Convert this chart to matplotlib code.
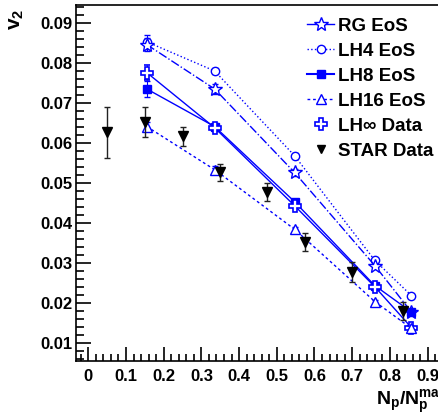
import matplotlib
matplotlib.use("Agg")
import matplotlib.pyplot as plt
from matplotlib.lines import Line2D
from matplotlib.ticker import MultipleLocator, FixedLocator, FixedFormatter

plt.rcParams['font.family'] = ['Liberation Sans', 'DejaVu Sans']
plt.rcParams['font.weight'] = 'bold'
plt.rcParams['mathtext.fontset'] = 'custom'
plt.rcParams['mathtext.rm'] = 'Liberation Sans:bold'
plt.rcParams['mathtext.bf'] = 'Liberation Sans:bold'
plt.rcParams['mathtext.it'] = 'Liberation Sans:bold'
plt.rcParams['mathtext.default'] = 'bf'

# ---- data ----
x_model = [0.155, 0.335, 0.547, 0.760, 0.857]
rg = [0.0846, 0.0735, 0.0526, 0.0293, 0.0177]
rg_err = [0.0016, 0.0013, 0.0008, 0.0008, 0.0006]
lh4 = [0.0853, 0.0780, 0.0568, 0.0306, 0.0218]
lh4_err = [0.0018, 0.0008, 0.0006, 0.0006, 0.0005]
lh8 = [0.0735, 0.0641, 0.0453, 0.0243, 0.0177]
lh8_err = [0.0019, 0.0008, 0.0006, 0.0006, 0.0005]
lh16 = [0.0641, 0.0533, 0.0384, 0.0203, 0.0136]
lh16_err = [0.0012, 0.0008, 0.0006, 0.0005, 0.0005]
lhinf = [0.0776, 0.0638, 0.0443, 0.0240, 0.0138]
lhinf_err = [0.0018, 0.0008, 0.0006, 0.0006, 0.0005]

star_x = [0.05, 0.15, 0.25, 0.35, 0.475, 0.575, 0.70, 0.836]
star_y = [0.0626, 0.0653, 0.0616, 0.0526, 0.0477, 0.0352, 0.0277, 0.0179]
star_err = [0.0063, 0.0038, 0.0025, 0.0022, 0.0023, 0.0023, 0.0024, 0.0022]

x_ticks = [0, 0.1, 0.2, 0.3, 0.4, 0.5, 0.6, 0.7, 0.8, 0.9]
x_ticklabels = ['0', '0.1', '0.2', '0.3', '0.4', '0.5', '0.6', '0.7', '0.8', '0.9']
y_ticks = [0.01, 0.02, 0.03, 0.04, 0.05, 0.06, 0.07, 0.08, 0.09]
y_ticklabels = ['0.01', '0.02', '0.03', '0.04', '0.05', '0.06', '0.07', '0.08', '0.09']

W, H = 439, 413
fig = plt.figure(figsize=(W / 100, H / 100), dpi=100)
ax_left, ax_right, ax_top, ax_bot = 76.5, 445.0, 5.0, 361.0
ax = fig.add_axes([ax_left / W, 1 - ax_bot / H, (ax_right - ax_left) / W, (ax_bot - ax_top) / H])

blue = '#0000ff'
ms = 7
lw = 1.0

ax.errorbar(x_model, lh4, yerr=lh4_err, color=blue, ls=':', lw=lw, marker='o', mfc='white',
            mec=blue, ms=ms - 1, capsize=2, elinewidth=0.7, zorder=3)
ax.errorbar(x_model, rg, yerr=rg_err, color=blue, ls='-.', lw=lw, marker='*', mfc='white',
            mec=blue, ms=ms + 3, capsize=2, elinewidth=0.8, zorder=3)
ax.errorbar(x_model, lh8, yerr=lh8_err, color=blue, ls='-', lw=lw, marker='s', mfc=blue,
            mec=blue, ms=ms - 1, capsize=2, elinewidth=0.8, zorder=3)
ax.errorbar(x_model, lhinf, yerr=lhinf_err, color=blue, ls='-', lw=lw, marker='P', mfc='white',
            mec=blue, ms=ms + 2, mew=1.2, capsize=2, elinewidth=0.8, zorder=3)
ax.errorbar(x_model, lh16, yerr=lh16_err, color=blue, ls=(0, (2, 2)), lw=lw, marker='^', mfc='white',
            mec=blue, ms=ms, capsize=2, elinewidth=0.7, zorder=3)
ax.errorbar(star_x, star_y, yerr=star_err, color='black', ls='none', marker='v', mfc='black',
            mec='black', ms=ms, capsize=2.5, elinewidth=1.0, ecolor='#222222', zorder=4)

ax.set_xlim((ax_left - 88.3) / 377.0, (ax_right - 88.3) / 377.0)
ax.set_ylim(0.00543, 0.0945)

ax.xaxis.set_major_locator(FixedLocator(x_ticks))
ax.xaxis.set_major_formatter(FixedFormatter(x_ticklabels))
ax.xaxis.set_minor_locator(MultipleLocator(0.02))
ax.yaxis.set_major_locator(FixedLocator(y_ticks))
ax.yaxis.set_major_formatter(FixedFormatter(y_ticklabels))
ax.yaxis.set_minor_locator(MultipleLocator(0.002))

ax.tick_params(which='both', direction='in', top=False, right=False, width=1.2, labelsize=12)
ax.tick_params(axis='x', which='major', length=10, pad=6)
ax.tick_params(axis='x', which='minor', length=5)
ax.tick_params(axis='y', which='major', length=11, pad=3)
ax.tick_params(axis='y', which='minor', length=6)
for lab in ax.get_xticklabels() + ax.get_yticklabels():
    lab.set_fontweight('bold')
for s in ax.spines.values():
    s.set_linewidth(1.2)

handles = [
    Line2D([], [], color=blue, ls='-', lw=lw, marker='*', mfc='white', mec=blue, ms=ms + 3),
    Line2D([], [], color=blue, ls=':', lw=lw, marker='o', mfc='white', mec=blue, ms=ms - 1),
    Line2D([], [], color=blue, ls='-', lw=lw + 0.5, marker='s', mfc=blue, mec=blue, ms=ms - 1),
    Line2D([], [], color=blue, ls=(0, (2, 2)), lw=lw, marker='^', mfc='white', mec=blue, ms=ms),
    Line2D([], [], color=blue, ls='none', marker='P', mfc='white', mec=blue, ms=ms + 2, mew=1.2),
    Line2D([], [], color='black', ls='none', marker='v', mfc='black', mec='black', ms=ms - 1),
]
labels = ['RG EoS', 'LH4 EoS', 'LH8 EoS', 'LH16 EoS', 'LH\u221e Data', 'STAR Data']
leg = fig.legend(handles, labels, loc='upper left', bbox_to_anchor=(307 / W, 1 - 17.5 / H),
                 frameon=False, borderpad=0, borderaxespad=0, handlelength=1.45,
                 handletextpad=0.18, labelspacing=0.42, prop={'size': 13.5, 'weight': 'bold'})

fig.text(17 / W, 1 - 9 / H, r'$v_2$', rotation=90, ha='center', va='top', fontsize=15)
fig.text(376 / W, 1 - 405 / H, r'$N_p/N_p^{max}$', ha='left', va='baseline', fontsize=14)

fig.savefig('out.png', dpi=100)
